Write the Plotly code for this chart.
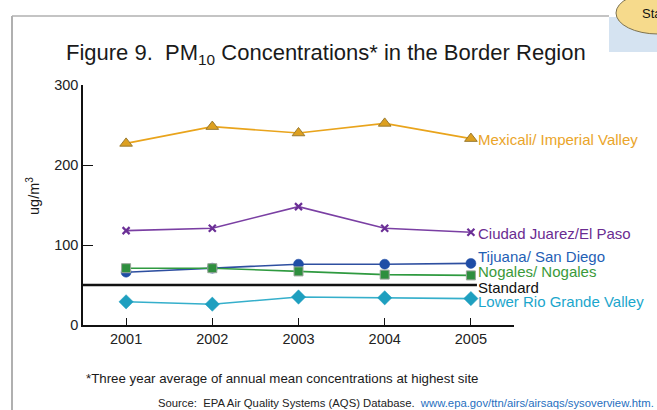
import plotly.graph_objects as go

years = [2001, 2002, 2003, 2004, 2005]
mexicali = [227, 248, 240, 252, 233]
juarez = [118, 121, 148, 121, 116]
tijuana = [66, 71, 76, 76, 77]
nogales = [71, 71, 67, 63, 62]
lower_rio = [29, 26, 35, 34, 33]
standard = 50

series_names = ["Mexicali/ Imperial Valley", "Ciudad Juarez/El Paso", "Tijuana/ San Diego",
                "Nogales/ Nogales", "Lower Rio Grande Valley"]
y_ticks = [0, 100, 200, 300]

FONT = "Liberation Sans, Arial, sans-serif"

# plot area in pixels
L, R, T, B = 83, 514, 85, 325
W, H = 657, 410

def px(x):
    return (x - L) / (R - L)

def py(y):
    return (B - y) / (B - T)

fig = go.Figure()

specs = [
    (mexicali, "#E9A41C", dict(symbol="triangle-up", size=11, color="#DDA020", line=dict(color="#9A7A30", width=1))),
    (juarez, "#7A3FA3", dict(symbol="x-thin", size=7, color="#6B2F96", line=dict(color="#6B2F96", width=2.2))),
    (tijuana, "#2E4FA0", dict(symbol="circle", size=10, color="#1F4DA6", line=dict(color="#1F4DA6", width=0.5))),
    (nogales, "#2F9A40", dict(symbol="square", size=9, color="#2E8F3E", line=dict(color="#9AA59A", width=1))),
    (lower_rio, "#35AFCB", dict(symbol="diamond", size=11, color="#1E9FBF", line=dict(color="#1E9FBF", width=0.5))),
]

# standard line
fig.add_trace(go.Scatter(x=[2000.5, 2005.07], y=[standard, standard], mode="lines",
                         line=dict(color="#111111", width=2.5), hoverinfo="skip", cliponaxis=False))

for vals, lc, mk in specs:
    fig.add_trace(go.Scatter(x=years, y=vals, mode="lines+markers",
                             line=dict(color=lc, width=1.6), marker=mk, cliponaxis=False))

# end labels
label_specs = [
    (series_names[0], mexicali[-1], "#EAA52A", -1),
    (series_names[1], juarez[-1], "#6A2C91", -1),
    (series_names[2], tijuana[-1], "#1F60B5", 7),
    (series_names[3], nogales[-1], "#3A9A3A", 4),
    ("Standard", standard, "#111111", -2),
    (series_names[4], lower_rio[-1], "#1BA6CC", -3),
]
for text, yv, col, ys in label_specs:
    fig.add_annotation(x=2005, y=yv, xref="x", yref="y", text=text, showarrow=False,
                       xanchor="left", yanchor="middle", xshift=5, yshift=ys,
                       font=dict(family=FONT, size=15, color=col))

# title
fig.add_annotation(x=px(64), y=py(54), xref="paper", yref="paper",
                   text="Figure 9.  PM<sub>10</sub> Concentrations* in the Border Region",
                   showarrow=False, xanchor="left", yanchor="middle",
                   font=dict(family=FONT, size=22, color="#1a1a1a"))

# y label
fig.add_annotation(x=px(33), y=py(196), xref="paper", yref="paper", text="ug/m<sup>3</sup>",
                   showarrow=False, textangle=-90, xanchor="center", yanchor="middle",
                   font=dict(family=FONT, size=14.5, color="#1a1a1a"))

# footnote
fig.add_annotation(x=px(84), y=py(378), xref="paper", yref="paper",
                   text="*Three year average of annual mean concentrations at highest site",
                   showarrow=False, xanchor="left", yanchor="middle",
                   font=dict(family=FONT, size=13.3, color="#1a1a1a"))
fig.add_annotation(x=px(156), y=py(403), xref="paper", yref="paper",
                   text="Source:  EPA Air Quality Systems (AQS) Database.  "
                        "<span style='color:#1F6FC0'>www.epa.gov/ttn/airs/airsaqs/sysoverview.htm.</span>",
                   showarrow=False, xanchor="left", yanchor="middle",
                   font=dict(family=FONT, size=11.3, color="#222222"))

# frame and callout
shapes = [
    dict(type="line", xref="paper", yref="paper", x0=px(12), x1=px(12), y0=py(16), y1=py(412),
         line=dict(color="#B0B0B0", width=2)),
    dict(type="line", xref="paper", yref="paper", x0=px(12), x1=px(609), y0=py(16), y1=py(16),
         line=dict(color="#B0B0B0", width=1.5)),
    dict(type="rect", xref="paper", yref="paper", x0=px(609), x1=px(660), y0=py(17), y1=py(52),
         fillcolor="#D5E3F1", line=dict(width=0)),
    dict(type="circle", xref="paper", yref="paper", x0=px(616), x1=px(700), y0=py(-8), y1=py(34),
         fillcolor="#F6DA8C", line=dict(color="#7E7350", width=1)),
]
fig.add_annotation(x=px(640), y=py(14), xref="paper", yref="paper", text="Sta", showarrow=False,
                   xanchor="left", yanchor="middle", font=dict(family=FONT, size=13, color="#111111"))

fig.update_layout(
    width=W, height=H,
    margin=dict(l=L, r=W - R, t=T, b=H - B),
    paper_bgcolor="white", plot_bgcolor="white",
    showlegend=False,
    shapes=shapes,
    font=dict(family=FONT, size=14, color="#222222"),
    xaxis=dict(range=[2000.5, 2005.5], tickvals=years, ticktext=[str(y) for y in years],
               showline=True, linecolor="#111111", linewidth=1.5, ticks="inside", ticklen=7,
               tickcolor="#111111", tickwidth=1, showgrid=False, zeroline=False,
               tickfont=dict(family=FONT, size=14.5, color="#222222")),
    yaxis=dict(range=[0, 300], tickvals=y_ticks, showline=True, linecolor="#111111", linewidth=1.5,
               ticks="inside", ticklen=10, tickcolor="#111111", tickwidth=1.2, showgrid=False,
               zeroline=False, tickfont=dict(family=FONT, size=14.5, color="#222222")),
)

fig.write_html("out.html", config={"displayModeBar": False},
               post_script="document.body.style.margin='0';document.body.style.overflow='hidden';")
